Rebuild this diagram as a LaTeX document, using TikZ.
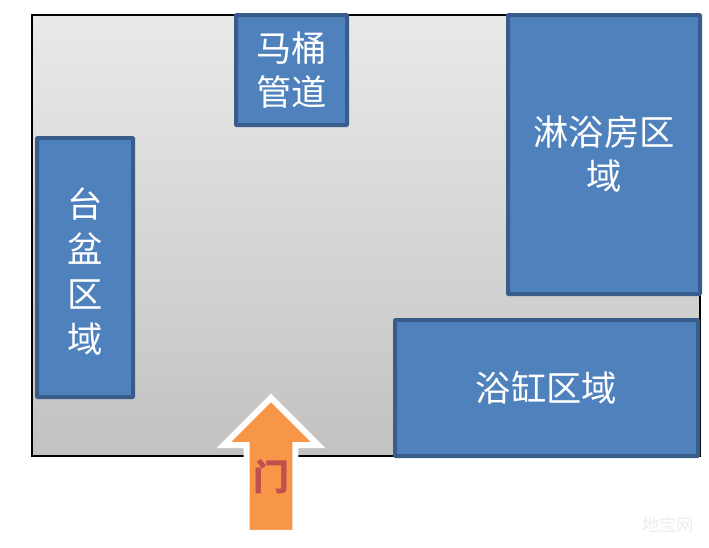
\documentclass[tikz,border=0pt]{standalone}
\usepackage{fontspec}
\setmainfont{Noto Sans CJK SC}
\usetikzlibrary{shapes.arrows,shadows}
\definecolor{areafill}{HTML}{4F81BD}
\definecolor{arealine}{HTML}{385D8A}
\definecolor{doorfill}{HTML}{F79646}
\definecolor{doortext}{HTML}{C0504D}

\tikzset{
	area/.style={rectangle, rounded corners=.5pt, draw=arealine, fill=areafill, line width=3pt, text=white,
		align=center, inner sep=0pt, font=\fontsize{26.5}{33}\selectfont,
		drop shadow={shadow xshift=.6pt, shadow yshift=-.9pt, fill=black, opacity=.2}},
	room/.style={rectangle, draw=black, line width=1.5pt, top color=gray!17, bottom color=gray!48, inner sep=0pt,
		drop shadow={shadow xshift=.6pt, shadow yshift=-.9pt, fill=black, opacity=.2}},
	doorarrow/.style={single arrow, shape border rotate=90, draw=white, fill=doorfill, line width=4.5pt, inner sep=0pt, inner xsep=16pt,
		single arrow tip angle=90, single arrow head extend=17.25pt, minimum height=101.25pt,
		drop shadow={shadow xshift=.5pt, shadow yshift=-.8pt, fill=black, opacity=.15}}
}

\begin{document}
\begin{tikzpicture}[x=.75pt, y=-.75pt]
	\useasboundingbox (0,0) rectangle (709,547);
	\node [room, minimum width=501pt, minimum height=330.75pt] (bath) at (366,235.5) {};

	\node [area, minimum width=83.25pt, minimum height=82.5pt] (pipe) at (291.5,70) {马桶\\管道};
	\node [area, minimum width=72pt, minimum height=194.25pt, font=\fontsize{26.5}{33.75}\selectfont] (basin) at (85,267.5) {\rule{0pt}{29pt}台\\盆\\区\\域};
	\node [area, minimum width=144pt, minimum height=209.25pt] (shower) at (604,154.5) {淋浴房区\\域};
	\node [area, minimum width=227.25pt, minimum height=102pt] (tub) at (546.5,388) {浴缸区域};

	\node [doorarrow] (door) at (271,477.5) {};
	\node [text=doortext, font=\fontsize{27}{27}\selectfont\bfseries, inner sep=0pt] (doorlabel) at (271,477) {门};

	\node [text=gray!14, font=\fontsize{13}{13}\selectfont, inner sep=0pt] (mark) at (668,525) {地宝网};
\end{tikzpicture}
\end{document}
